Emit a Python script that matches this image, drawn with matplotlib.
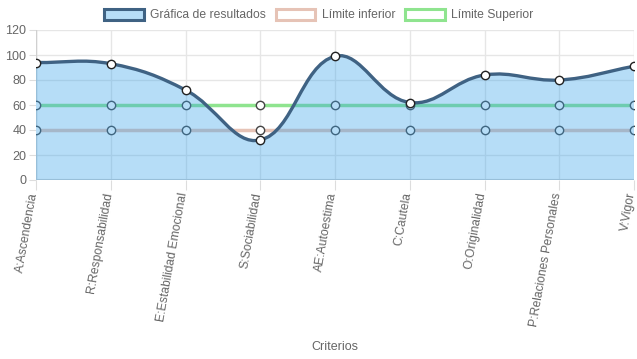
import numpy as np
import matplotlib
matplotlib.use("Agg")
import matplotlib.pyplot as plt
import matplotlib.transforms as mtrans
from matplotlib.patches import Patch, PathPatch
from matplotlib.path import Path

plt.rcParams['font.family'] = ['Liberation Sans', 'DejaVu Sans']

categories = ["A:Ascendencia", "R:Responsabilidad", "E:Estabilidad Emocional",
              "S:Sociabilidad", "AE:Autoestima", "C:Cautela", "O:Originalidad",
              "P:Relaciones Personales", "V:Vigor"]
resultados = [94, 93, 72, 32, 99, 62, 84, 80, 91]
limite_inferior = [40, 40, 40, 40, 40, 40, 40, 40, 40]
limite_superior = [60, 60, 60, 60, 60, 60, 60, 60, 60]
y_ticks = [0, 20, 40, 60, 80, 100, 120]

W, H = 637, 359
fig = plt.figure(figsize=(W/100, H/100), dpi=100)
ax = fig.add_axes([36/W, 1-180/H, (634-36)/W, 150/H])
n = len(categories)
x = np.arange(n)
ax.set_xlim(0, n-1)
ax.set_ylim(0, 120)

# spline like Chart.js (tension 0.4), computed in pixel space
def spline_path(xs, ys, t=0.4):
    pts = ax.transData.transform(np.column_stack([xs, ys]))
    m = len(pts)
    cps = []
    for i in range(m):
        p = pts[i]
        prev = pts[i-1] if i > 0 else p
        nxt = pts[i+1] if i < m-1 else p
        d01 = np.hypot(*(p-prev)); d12 = np.hypot(*(nxt-p))
        tot = d01 + d12
        s01 = d01/tot if tot else 0; s12 = d12/tot if tot else 0
        fa, fb = t*s01, t*s12
        cps.append((p - fa*(nxt-prev), p + fb*(nxt-prev)))
    verts = [pts[0]]; codes = [Path.MOVETO]
    for i in range(m-1):
        verts += [cps[i][1], cps[i+1][0], pts[i+1]]
        codes += [Path.CURVE4]*3
    inv = ax.transData.inverted()
    verts = inv.transform(np.array(verts))
    return verts, codes

grid_c = '#e6e6e6'
ax.set_yticks(y_ticks)
ax.set_xticks(x)
ax.grid(True, color=grid_c, linewidth=1)
ax.set_axisbelow(True)
for s in ax.spines.values():
    s.set_visible(False)
ax.axhline(0, color='#d0d0d0', linewidth=1.5, zorder=1)
ax.axvline(0, color='#d0d0d0', linewidth=1, zorder=1)

# limit lines
ax.plot(x, limite_inferior, color='#e6c3b6', linewidth=2.5, zorder=2)
ax.plot(x, limite_superior, color='#8fe48f', linewidth=2.5, zorder=2)
ax.plot(x, limite_inferior, linestyle='none', marker='o', markersize=6,
        markerfacecolor='white', markeredgecolor='#444444', markeredgewidth=1.0, zorder=3)
ax.plot(x, limite_superior, linestyle='none', marker='o', markersize=6,
        markerfacecolor='white', markeredgecolor='#444444', markeredgewidth=1.0, zorder=3)

# fill + curve
verts, codes = spline_path(x, resultados)
fv = list(verts) + [(n-1, 0), (0, 0), verts[0]]
fc = codes + [Path.LINETO, Path.LINETO, Path.CLOSEPOLY]
ax.add_patch(PathPatch(Path(fv, fc), facecolor=(54/255, 162/255, 235/255, 0.36),
                       edgecolor='none', zorder=4))
ax.add_patch(PathPatch(Path(verts, codes), facecolor='none', edgecolor='#3f6283',
                       linewidth=2.4, zorder=5, capstyle='round'))
ax.plot(x, resultados, linestyle='none', marker='o', markersize=6,
        markerfacecolor='white', markeredgecolor='#222222', markeredgewidth=1.0, zorder=6)

ax.tick_params(axis='y', colors='#dddddd', labelcolor='#666666', labelsize=9, length=5, pad=2)
ax.tick_params(axis='x', colors='#dddddd', labelcolor='#666666', labelsize=8.7, length=7, pad=2)
ax.set_xticklabels(categories, rotation=80, ha='right', va='center', rotation_mode='anchor')
off = mtrans.ScaledTranslation(-2/100, 0, fig.dpi_scale_trans)
for lab in ax.get_xticklabels():
    lab.set_transform(lab.get_transform() + off)
ax.set_xlabel("Criterios", color='#666666', fontsize=9, labelpad=6)
ax.xaxis.set_label_coords(0.5, -1.07)

handles = [
    Patch(facecolor=(54/255, 162/255, 235/255, 0.36), edgecolor='#3f6283', linewidth=2.2, label='Gráfica de resultados'),
    Patch(facecolor='white', edgecolor='#e6c3b6', linewidth=2.2, label='Límite inferior'),
    Patch(facecolor='white', edgecolor='#8fe48f', linewidth=2.2, label='Límite Superior'),
]
leg = fig.legend(handles=handles, loc='center', bbox_to_anchor=(0.5, 1-15/H), ncol=3,
                 frameon=False, fontsize=8.7, handlelength=3.3, handleheight=1.0,
                 columnspacing=0.8, handletextpad=0.5, labelcolor='#666666')

fig.savefig("out.png", dpi=100)
